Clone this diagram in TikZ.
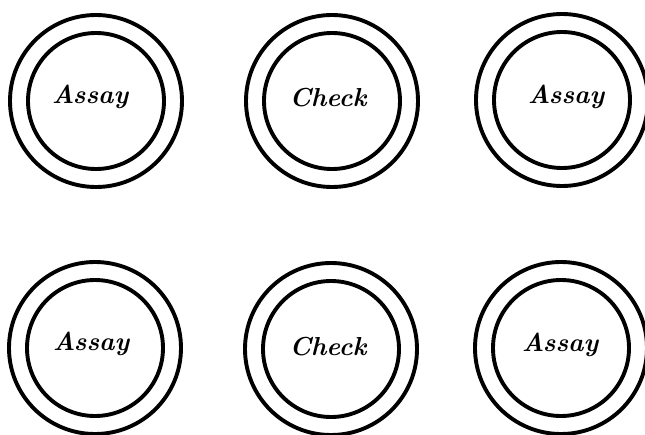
\documentclass[tikz,border=0pt]{standalone}
\begin{document}
\begin{tikzpicture}[x=1pt,y=-1pt,
  ring/.style={draw, circle, line width=3.9pt, minimum size=136pt, inner sep=0pt},
  outerring/.style={line width=3.9pt},
  lbl/.style={font=\fontsize{26}{29}\selectfont\bfseries\itshape, inner sep=0pt}]
\useasboundingbox (0,0) rectangle (645,434);
% top row
\node[ring] (c1) at (96,101) {};
\node[ring] (c2) at (332,101) {};
\node[ring] (c3) at (562,100) {};
% bottom row
\node[ring] (c4) at (95,348) {};
\node[ring] (c5) at (331,349) {};
\node[ring] (c6) at (561,348) {};
\foreach \n in {c1,c2,c3,c4,c5,c6}{
  \draw[outerring] (\n.center) circle (86);
}
\node[lbl] (t1) at (90,97) {Assay};
\node[lbl] (t2) at (328,98) {Check};
\node[lbl] (t3) at (566,97) {Assay};
\node[lbl] (t4) at (91,344) {Assay};
\node[lbl] (t5) at (328,347) {Check};
\node[lbl] (t6) at (560,345) {Assay};
\end{tikzpicture}
\end{document}
